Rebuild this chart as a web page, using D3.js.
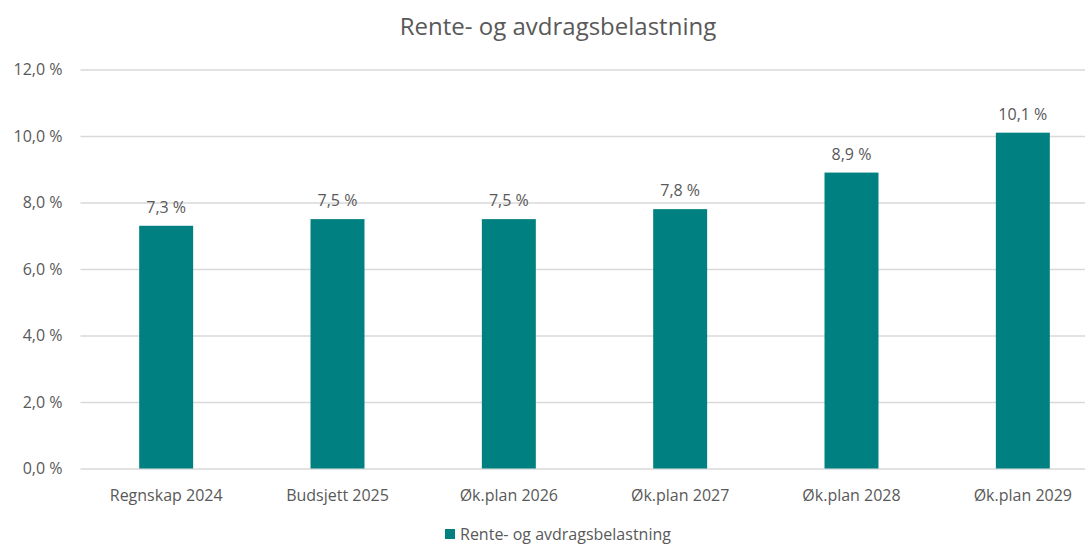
<!DOCTYPE html>
<html><head><meta charset="utf-8">
<script src="https://cdn.jsdelivr.net/npm/d3@7"></script>
<style>body{margin:0;background:#fff}svg{display:block}text{font-family:"Open Sans","Liberation Sans",sans-serif;fill:#595959}</style>
</head><body><svg id="c" width="1085" height="546"></svg>
<script>
const categories = ["Regnskap 2024","Budsjett 2025","Øk.plan 2026","Øk.plan 2027","Øk.plan 2028","Øk.plan 2029"];
const values = [7.3, 7.5, 7.5, 7.8, 8.9, 10.1];
const yTicks = [0, 2, 4, 6, 8, 10, 12];
const seriesName = "Rente- og avdragsbelastning";
const title = "Rente- og avdragsbelastning";

const svg = d3.select("#c");
const x = d3.scaleBand().domain(categories).range([80.5, 1108.5]).paddingInner(0.685).paddingOuter(0.3425);
const y = d3.scaleLinear().domain([0, 12]).range([468.5, 69.5]);
const fmt = v => v.toFixed(1).replace(".", ",") + " %";
const teal = "#008080";
const fs = 16;

svg.append("text").attr("x", 558).attr("y", 35).attr("text-anchor", "middle").attr("font-size", 24).text(title);

const yAxis = d3.axisLeft(y).tickValues(yTicks).tickSize(-(1108.5-80.5)).tickFormat(fmt).tickPadding(18);
const ga = svg.append("g").attr("transform", "translate(80.5,0)").call(yAxis);
ga.select(".domain").remove();
ga.selectAll(".tick line").attr("stroke", "#d9d9d9").attr("stroke-width", 1.5);
ga.selectAll(".tick text").attr("font-size", fs).style("fill", "#595959").attr("font-family", "Open Sans, Liberation Sans, sans-serif");

svg.append("g").selectAll("rect").data(values).join("rect")
  .attr("x", (d,i) => x(categories[i])).attr("width", x.bandwidth())
  .attr("y", d => y(d)).attr("height", d => y(0) - y(d)).attr("fill", teal);

svg.append("g").selectAll("text").data(values).join("text")
  .attr("x", (d,i) => x(categories[i]) + x.bandwidth()/2).attr("y", d => y(d) - 13)
  .attr("text-anchor", "middle").attr("font-size", fs).text(fmt);

svg.append("g").selectAll("text").data(categories).join("text")
  .attr("x", d => x(d) + x.bandwidth()/2).attr("y", 501)
  .attr("text-anchor", "middle").attr("font-size", fs).text(d => d);

svg.append("rect").attr("x", 445).attr("y", 529).attr("width", 10).attr("height", 10).attr("fill", teal);
svg.append("text").attr("x", 460).attr("y", 540).attr("font-size", fs).text(seriesName);
</script></body></html>
